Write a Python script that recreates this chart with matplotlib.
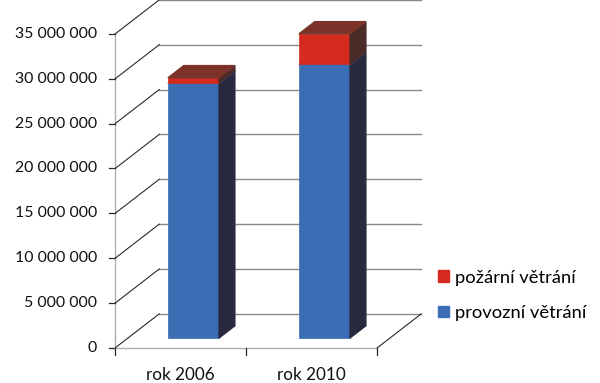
import numpy as np
import matplotlib.pyplot as plt
from matplotlib.patches import Polygon, Patch

categories = ["rok 2006", "rok 2010"]
provozni = [28_400_000, 30_500_000]   # provozní větrání
pozarni = [600_000, 3_400_000]        # požární větrání
yticks = list(range(0, 35_000_001, 5_000_000))

plt.rcParams['font.family'] = ['Lato', 'DejaVu Sans']

fig = plt.figure(figsize=(6.0, 3.83), dpi=100)
ax = fig.add_axes([0, 0, 1, 1])
ax.set_xlim(-1.477, 3.103)
ax.set_ylim(-5.016e6, 37.675e6)
ax.axis("off")

# oblique depth: d=0 front of floor, d=1 back wall, bars sit at BAR_D
BAR_D = 0.29
DX, DY = 0.336, 3.79e6


def proj(x, y, d):
    return x + (d - BAR_D) * DX, y + (d - BAR_D) * DY


grid = "#8a8a8a"
dark = "#2a2a2a"
light = "#b0b0b0"
x0, x1 = -0.5, len(categories) - 0.5

# left axis line
a, b = proj(x0, 0, 0), proj(x0, yticks[-1], 0)
ax.plot([a[0], b[0]], [a[1], b[1]], color=light, lw=1)

# back wall grid + left wall diagonals
for v in yticks:
    a, b = proj(x0, v, 1), proj(x1, v, 1)
    ax.plot([a[0], b[0]], [a[1], b[1]], color=grid, lw=1)
    c = proj(x0, v, 0)
    ax.plot([c[0], a[0]], [c[1], a[1]], color=dark, lw=0.8)
    ax.plot([c[0] - 0.05, c[0]], [c[1], c[1]], color=dark, lw=0.9)
    ax.text(c[0] - 0.14, c[1], f"{v:,}".replace(",", " "), ha="right",
            va="center", fontsize=11.4, color="#111111")

# floor edges
a, b = proj(x0, 0, 0), proj(x1, 0, 0)
ax.plot([a[0], b[0]], [a[1], b[1]], color=light, lw=1)
c = proj(x1, 0, 1)
ax.plot([b[0], c[0]], [b[1], c[1]], color=dark, lw=0.8)
for xt in np.arange(x0, x1 + 0.01, 1.0):
    p = proj(xt, 0, 0)
    ax.plot([p[0], p[0]], [p[1], p[1] - 0.75e6], color=dark, lw=0.9)
for i, cat in enumerate(categories):
    p = proj(i, 0, 0)
    ax.text(p[0], p[1] - 3.05e6, cat, ha="center", va="center",
            fontsize=12.3, color="#111111")

# bars
w = 0.39
depth = 0.36
xs = np.arange(len(categories))
segs = [(provozni, [0, 0], "#3A6DB4", "#28293F", "#3A6DB4"),
        (pozarni, provozni, "#D42B1E", "#4B2B28", "#7B3228")]
for vals, bottoms, front, side, top in segs:
    ax.bar(xs, vals, width=w, bottom=bottoms, color=front, zorder=3,
           edgecolor=front, linewidth=0.5)
    for x, v, b0 in zip(xs, vals, bottoms):
        xr = x + w / 2
        y0, y1 = b0, b0 + v
        s = [(xr, y0), (xr, y1),
             proj(xr, y1, BAR_D + depth), proj(xr, y0, BAR_D + depth)]
        ax.add_patch(Polygon(s, closed=True, color=side, zorder=3))
        xl = x - w / 2
        t = [(xl, y1), (xr, y1),
             proj(xr, y1, BAR_D + depth), proj(xl, y1, BAR_D + depth)]
        ax.add_patch(Polygon(t, closed=True, color=top, zorder=3))

handles = [Patch(color="#D42B1E", label="požární větrání"),
           Patch(color="#3A6DB4", label="provozní větrání")]
ax.legend(handles=handles, loc="upper left", bbox_to_anchor=(0.717, 0.315),
          frameon=False, fontsize=13.2, handlelength=0.6, handleheight=0.6,
          handletextpad=0.35, labelspacing=1.05, borderaxespad=0)

fig.savefig("out.png", dpi=100)
